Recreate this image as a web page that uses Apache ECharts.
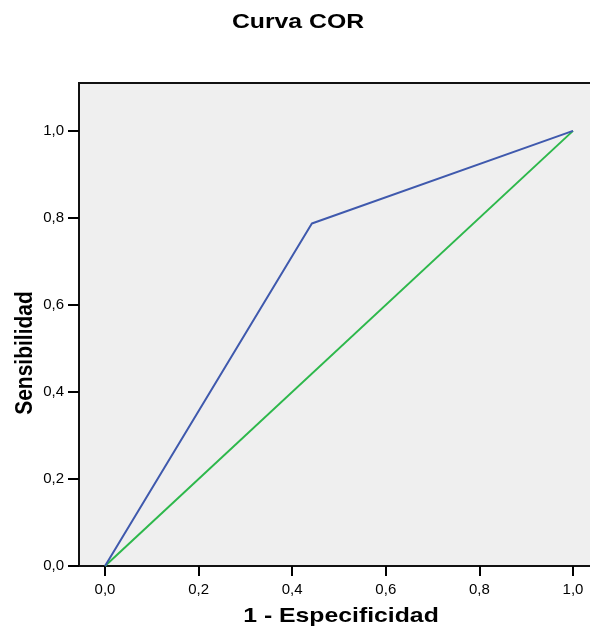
<!DOCTYPE html>
<html>
<head>
<meta charset="utf-8">
<script src="https://cdn.jsdelivr.net/npm/echarts@6/dist/echarts.min.js"></script>
<style>
  html, body { margin: 0; padding: 0; background: #fff; }
  #chart { width: 590px; height: 630px; }
</style>
</head>
<body>
<div id="chart"></div>
<script>
// ROC curve points (1 - specificity, sensitivity)
const rocX = [0.0, 0.442, 1.0];
const rocY = [0.0, 0.787, 1.0];
// Reference diagonal
const refX = [0.0, 1.0];
const refY = [0.0, 1.0];
// Tick positions and labels
const tickValues = [0.0, 0.2, 0.4, 0.6, 0.8, 1.0];
const fmt = v => v.toFixed(1).replace('.', ',');

const FONT = 'Liberation Sans, Arial, sans-serif';
const WIDE = 1.18; // horizontal stretch applied to the heading texts

const chart = echarts.init(document.getElementById('chart'));
const labelFont = { fontFamily: FONT, fontSize: 15, color: '#000' };
const headFont = { fontFamily: FONT, fontSize: 21, fontWeight: 'bold', fill: '#000' };

chart.setOption({
  animation: false,
  grid: {
    left: 79, top: 83, width: 520, height: 483,
    outerBoundsMode: 'none', containLabel: false,
    show: true, backgroundColor: '#efefef', borderColor: '#111', borderWidth: 2
  },
  xAxis: {
    type: 'value', min: -0.0556, max: 1.0556,
    axisLine: { show: true, onZero: false, lineStyle: { color: '#111', width: 2 } },
    axisTick: { show: true, length: 10, customValues: tickValues, lineStyle: { color: '#000', width: 2 } },
    axisLabel: { customValues: tickValues, formatter: fmt, margin: 16, ...labelFont },
    splitLine: { show: false }
  },
  yAxis: {
    type: 'value', min: 0, max: 1.11,
    axisLine: { show: true, onZero: false, lineStyle: { color: '#111', width: 2 } },
    axisTick: { show: true, length: 11, customValues: tickValues, lineStyle: { color: '#000', width: 2 } },
    axisLabel: { customValues: tickValues, formatter: fmt, margin: 15, ...labelFont },
    splitLine: { show: false }
  },
  graphic: [
    {
      type: 'text', x: 298, y: 22, scaleX: WIDE,
      style: { text: 'Curva COR', align: 'center', verticalAlign: 'middle', ...headFont }
    },
    {
      type: 'text', x: 341, y: 616, scaleX: WIDE,
      style: { text: '1 - Especificidad', align: 'center', verticalAlign: 'middle', ...headFont }
    },
    {
      type: 'text', x: 25, y: 353, rotation: Math.PI / 2, scaleY: WIDE,
      style: { text: 'Sensibilidad', align: 'center', verticalAlign: 'middle', ...headFont }
    }
  ],
  series: [
    {
      type: 'line', data: refX.map((x, i) => [x, refY[i]]),
      showSymbol: false, lineStyle: { color: '#2db84b', width: 2 }, z: 2
    },
    {
      type: 'line', data: rocX.map((x, i) => [x, rocY[i]]),
      showSymbol: false, lineStyle: { color: '#3f59ad', width: 2 }, z: 3
    }
  ]
});
</script>
</body>
</html>
